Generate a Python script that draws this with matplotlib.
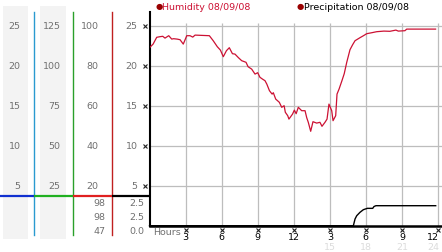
import numpy as np
import matplotlib.pyplot as plt

# humidity readings: hour of day, percent
hum_hours = [0.0, 0.3, 0.6, 0.87, 1.1, 1.29, 1.6, 1.85, 2.0, 2.3, 2.54, 2.81, 3.1, 3.37,
             3.6, 3.79, 4.98, 5.3, 5.64, 5.9, 6.14, 6.4, 6.64, 6.9, 7.11, 7.4, 7.67, 8.03,
             8.2, 8.5, 8.78, 9.0, 9.19, 9.4, 9.61, 9.76, 9.98, 10.2, 10.3, 10.5, 10.8, 11.0,
             11.2, 11.3, 11.5, 11.6, 11.9, 12.05, 12.2, 12.38, 12.66, 12.94, 13.08, 13.21,
             13.41, 13.6, 13.91, 14.18, 14.35, 14.6, 14.77, 14.93, 15.16, 15.27, 15.49, 15.6,
             15.77, 16.01, 16.2, 16.41, 16.68, 16.9, 17.1, 17.51, 17.8, 18.07, 18.5, 18.9,
             19.5, 20.0, 20.5, 20.7, 21.25, 21.4, 23.8]
hum_pct = [89, 90.8, 94.2, 94.5, 94.7, 93.8, 95, 93.3, 93.5, 93.3, 93, 90.8, 95, 95,
           94.3, 95.3, 95, 92.5, 89.5, 87.8, 84.5, 87.5, 89, 86, 85.8, 84, 82.5, 81.7,
           79.5, 78.3, 75.8, 76.5, 74.2, 73.3, 72.5, 70.8, 67.5, 65.8, 66.5, 63.3, 61.7, 59.2,
           60, 56.7, 55, 53.3, 55.8, 57.8, 56, 59.2, 57.5, 57.5, 54, 51.7,
           47.2, 52, 51.3, 51.7, 49.7, 51.7, 53.3, 60.8, 57.5, 52.5, 55, 65.8,
           68.3, 72.5, 76, 81.7, 88, 90.5, 92.5, 94, 95, 96, 96.5, 97,
           97.3, 97.2, 97.8, 97.3, 97.5, 98.3, 98.3]

# precipitation readings: hour of day, inches
rain_hours = [0.0, 16.96, 17.1, 17.24, 17.51, 17.79, 18.12, 18.57, 18.68, 18.84, 23.81]
rain_in = [0.0, 0.0, 0.84, 1.25, 1.67, 2.0, 2.17, 2.17, 2.4, 2.5, 2.5]

# scale columns on the left
col_a = [5, 10, 15, 20, 25]
col_b = [25, 50, 75, 100, 125]
col_c = [20, 40, 60, 80, 100]
col_d = [5, 10, 15, 20, 25]
y_ticks = [5, 10, 15, 20, 25]

hour_ticks = [3, 6, 9, 12, 15, 18, 21, 24]
hour_labels = ['3', '6', '9', '12', '3', '6', '9', '12']
hour_labels_24 = ['', '', '', '', '15', '18', '21', '24']

legend_names = ['Humidity 08/09/08', 'Precipitation 08/09/08']

W, H = 442, 253
plt.rcParams['font.family'] = ['DejaVu Sans']
fig = plt.figure(figsize=(W / 100, H / 100), dpi=100)

x0 = 149.5          # left edge of plot, px
y_zero = 226.7      # pixel row of value 0
y_top = 13.3
ax_b = (H - y_zero) / H
ax_h = (y_zero - y_top) / H
ymax = (y_zero - y_top) / 8.0
xmax = (W - x0) / 12.02

gray_txt = '#707070'
fs = 6.8

# ---- left scale panel ----
side = fig.add_axes([0, ax_b, x0 / W, ax_h])
side.set_xlim(0, x0)
side.set_ylim(0, ymax)
side.axis('off')

for xl, xr in [(2.5, 28), (40, 65.5)]:
    side.fill_between([xl, xr], -1.7, 27.5, color='#f3f3f3', lw=0, clip_on=False)

for xv, c in [(33.5, '#2a9ad0'), (72.5, '#2aa02a'), (111.5, '#c02020')]:
    side.plot([xv, xv], [-1.2, ymax], color=c, lw=1.0, clip_on=False)

sep = 3.7
for xa, xb, c in [(0, 33.5, '#1030d0'), (33.5, 72.5, '#20b020'),
                  (72.5, 111.5, '#e02020'), (111.5, x0, '#000000')]:
    side.plot([xa, xb], [sep, sep], color=c, lw=1.6, solid_capstyle='butt', clip_on=False)

for yv, a, b, c, d in zip(y_ticks, col_a, col_b, col_c, col_d):
    side.text(20.5, yv, str(a), ha='right', va='center', color=gray_txt, fontsize=fs)
    side.text(60.5, yv, str(b), ha='right', va='center', color=gray_txt, fontsize=fs)
    side.text(98.5, yv, str(c), ha='right', va='center', color=gray_txt, fontsize=fs)
    side.text(137.5, yv, str(d), ha='right', va='center', color=gray_txt, fontsize=fs)

hum_stats = [hum_pct[-1], max(hum_pct), min(hum_pct)]
rain_stats = [rain_in[-1], max(rain_in), min(rain_in)]
for yv, hs, rs in zip([2.84, 1.09, -0.66], hum_stats, rain_stats):
    side.text(105, yv, f'{hs:.0f}', ha='right', va='center', color=gray_txt, fontsize=fs)
    side.text(144.5, yv, f'{rs:.1f}', ha='right', va='center', color=gray_txt, fontsize=fs)

# ---- main plot ----
ax = fig.add_axes([x0 / W, ax_b, (W - x0) / W, ax_h])
ax.set_xlim(0, xmax)
ax.set_ylim(0, ymax)
ax.patch.set_alpha(0)
for s in ['top', 'right']:
    ax.spines[s].set_visible(False)
ax.spines['left'].set_linewidth(1.5)
ax.spines['bottom'].set_linewidth(1.8)
ax.set_xticks([])
ax.set_yticks([])

ax.hlines(y_ticks, 0, xmax, color='#bdbdbd', lw=0.9, zorder=0)
ax.vlines(hour_ticks, 0, 25.3, color='#bdbdbd', lw=0.9, zorder=0)

hum_units = np.array(hum_pct) / 4.0
ax.plot(hum_hours, hum_units, color='#cc1133', lw=0.9, zorder=3)
ax.plot(rain_hours, rain_in, color='black', lw=1.0, zorder=3, clip_on=False)

# little tick glyphs
xt = ax.get_xaxis_transform()
yt = ax.get_yaxis_transform()
ax.plot([-0.014] * len(y_ticks), y_ticks, 'x', ms=2.6, mew=0.8, color='#222222',
        transform=yt, clip_on=False)
ax.plot(hour_ticks, [-0.021] * len(hour_ticks), 'x', ms=2.6, mew=0.8, color='#222222',
        transform=xt, clip_on=False)
last = len(hour_ticks) - 1
for i, (hv, l1, l2) in enumerate(zip(hour_ticks, hour_labels, hour_labels_24)):
    # the last label is pulled in so it stays inside the picture
    ha = 'right' if i == last else 'center'
    xp = hv + 0.1 if i == last else hv
    ax.text(xp, -0.05, l1, transform=xt, ha=ha, va='center', fontsize=fs, color='black')
    if l2:
        ax.text(xp, -0.097, l2, transform=xt, ha=ha, va='center', fontsize=fs,
                color='#dcdcdc')
ax.text(0.012, -0.026, 'Hours', transform=ax.transAxes, ha='left', va='center',
        fontsize=fs, color=gray_txt)

# legend
for lx, name, c in [(159, legend_names[0], '#cc1133'), (300.5, legend_names[1], 'black')]:
    fig.text(lx / W, 1 - 7 / H, '\u25cf', color='#990000', fontsize=6, ha='center', va='center')
    fig.text((lx + 3.5) / W, 1 - 7 / H, name, color=c, fontsize=fs, ha='left', va='center')

fig.savefig('out.png', dpi=100)
